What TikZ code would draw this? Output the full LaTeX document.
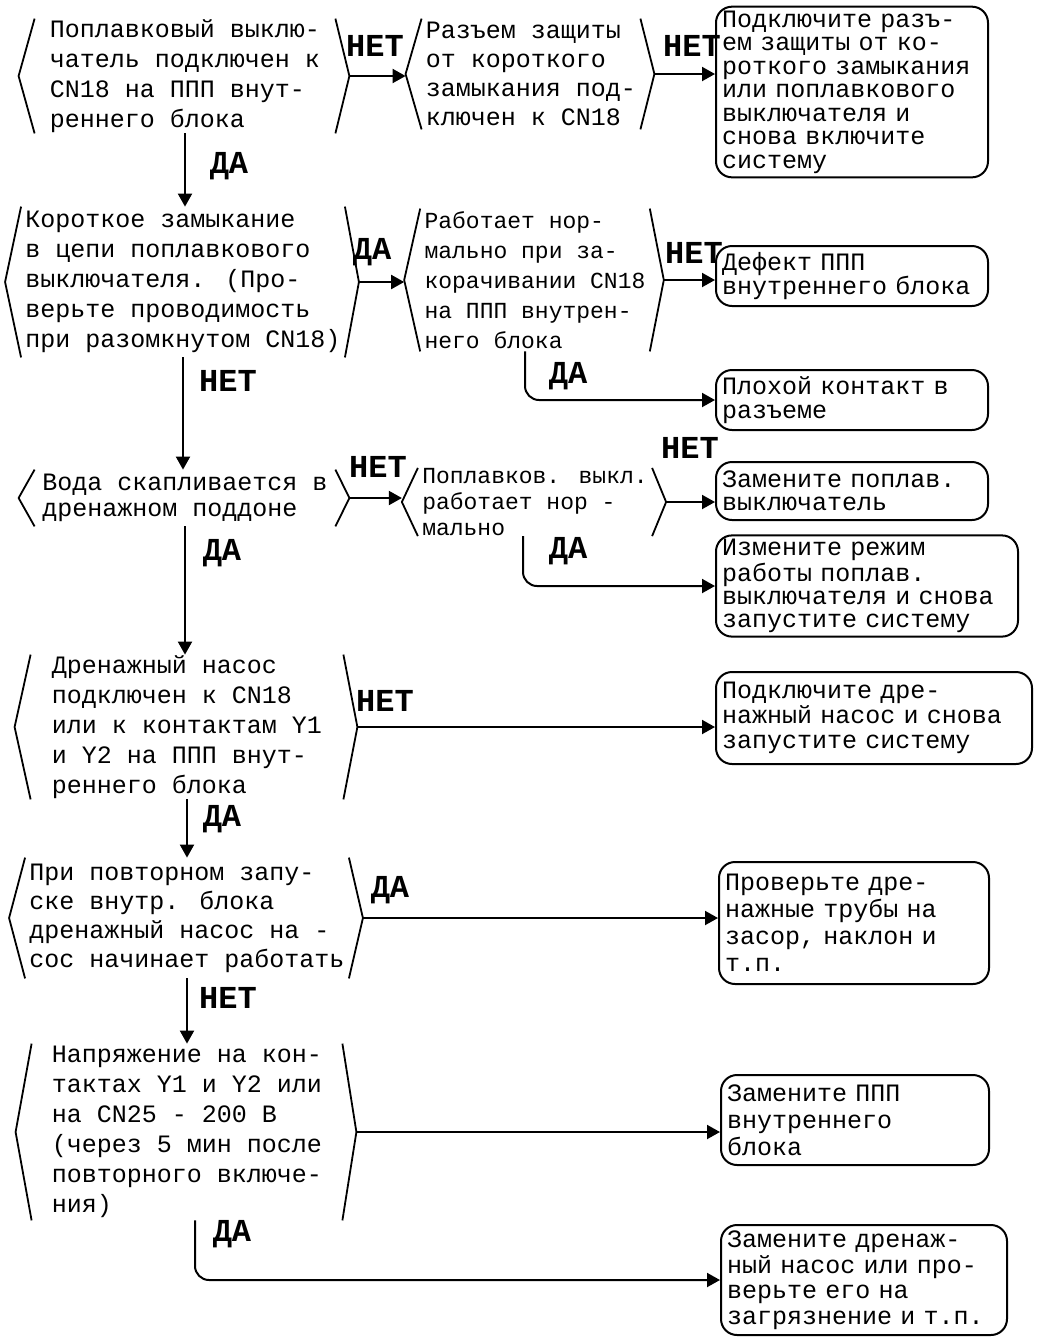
\documentclass[tikz,border=0pt]{standalone}
\usepackage{fontspec}
\newfontfamily\cyrmono{Liberation Mono}
\usetikzlibrary{arrows.meta, positioning, calc}
\tikzset{
    question/.style={
        align=left, inner xsep=2pt, inner ysep=0pt
    },
    answer/.style={
        rectangle, rounded corners=8pt, draw=black, line width=1pt,
        align=left, anchor=west, inner xsep=3pt, inner ysep=2pt,
        text width=#1
    },
    leading/.style 2 args={
        font=\cyrmono\fontsize{#1}{#2}\selectfont
    },
    reply/.style={
        font=\cyrmono\bfseries\fontsize{16}{16}\selectfont, inner sep=0pt
    },
    bracket/.style={
        line width=0.9pt, line join=round
    },
    arrow/.style={
        -{Triangle[length=6.5pt,width=7pt]}, line width=1pt
    },
    elbow/.style={
        arrow, rounded corners=7pt
    }
}
% angle brackets round a question, with named tips
\newcommand{\qbrackets}[1]{%
    \draw[bracket] (#1.north west) -- ($(#1.west)+(-16,0)$) coordinate (#1-l) -- (#1.south west);
    \draw[bracket] (#1.north east) -- ($(#1.east)+(14,0)$) coordinate (#1-r) -- (#1.south east);
}

\begin{document}
\begin{tikzpicture}[x=0.5pt, y=-0.5pt]

    \useasboundingbox (0,0) rectangle (1041,1340);

    % questions
    \node[question, leading={12.5}{15}, minimum width=150pt, minimum height=57pt]   (q1) at (185,76)
        {Поплавковый выклю-\\чатель подключен к\\CN18 на ППП внут-\\реннего блока};
    \node[question, leading={12.5}{14.5}, minimum width=109pt, minimum height=55pt] (q2) at (531,74)
        {Разъем защиты\\от короткого\\замыкания под-\\ключен к CN18};
    \node[question, leading={12.5}{15}, minimum width=155pt, minimum height=75pt]   (q3) at (183,282)
        {Короткое замыкание\\в цепи поплавкового\\выключателя. (Про-\\верьте проводимость\\при разомкнутом CN18)};
    \node[question, leading={11.5}{15}, minimum width=110pt, minimum height=71pt]   (q4) at (535,280)
        {Работает нор-\\мально при за-\\корачивании CN18\\на ППП внутрен-\\него блока};
    \node[question, leading={12.5}{13}, minimum width=150pt, minimum height=28pt]   (q6) at (185,498)
        {Вода скапливается в\\дренажном поддоне};
    \node[question, leading={11.5}{13}, minimum width=115pt, minimum height=28pt]   (q5) at (535,502)
        {Поплавков. выкл.\\работает нор -\\мально};
    \node[question, leading={12.5}{15}, minimum width=156pt, minimum height=72pt]   (q7) at (187,727)
        {Дренажный насос\\подключен к CN18\\или к контактам Y1\\и Y2 на ППП внут-\\реннего блока};
    \node[question, leading={12.5}{14.5}, minimum width=157pt, minimum height=60pt] (q8) at (187,918)
        {При повторном запу-\\ске внутр. блока\\дренажный насос на -\\сос начинает работать};
    \node[question, leading={12.5}{15}, minimum width=155pt, minimum height=88pt]   (q9) at (187,1132)
        {Напряжение на кон-\\тактах Y1 и Y2 или\\на CN25 - 200 В\\(через 5 мин после\\повторного включе-\\ния)};

    \qbrackets{q1} \qbrackets{q2} \qbrackets{q3} \qbrackets{q4} \qbrackets{q5}
    \qbrackets{q6} \qbrackets{q7} \qbrackets{q8} \qbrackets{q9}

    % answers
    \node[answer=130pt, leading={12.5}{11.75}, minimum height=80pt] (b1) at (715,92)
        {Подключите разъ-\\ем защиты от ко-\\роткого замыкания\\или поплавкового\\выключателя и\\снова включите\\систему};
    \node[answer=130pt, leading={12.5}{12}, minimum height=30pt]    (b2) at (715,276)
        {Дефект ППП\\внутреннего блока};
    \node[answer=130pt, leading={12.5}{12}, minimum height=30pt]    (b3) at (715,400)
        {Плохой контакт в\\разъеме};
    \node[answer=130pt, leading={12.5}{11.5}, minimum height=29pt]  (b4) at (715,491)
        {Замените поплав.\\выключатель};
    \node[answer=145pt, leading={12.5}{11.5}, minimum height=46pt]  (b5) at (715,586)
        {Измените режим\\работы поплав.\\выключателя и снова\\запустите систему};
    \node[answer=152pt, leading={12.5}{12.5}, minimum height=46pt]  (b6) at (715,718)
        {Подключите дре-\\нажный насос и снова\\запустите систему};
    \node[answer=129pt, leading={12.5}{13.5}, minimum height=61pt]  (b7) at (718,923)
        {Проверьте дре-\\нажные трубы на\\засор, наклон и\\т.п.};
    \node[answer=128pt, leading={12.5}{13.5}, minimum height=45pt]  (b8) at (720,1120)
        {Замените ППП\\внутреннего\\блока};
    \node[answer=137pt, leading={12.5}{12.75}, minimum height=55pt] (b9) at (720,1280)
        {Замените дренаж-\\ный насос или про-\\верьте его на\\загрязнение и т.п.};

    % connectors
    \draw[arrow] (q1-r) -- (q1-r -| q2-l);
    \draw[arrow] (q2-r) -- (q2-r -| b1.west);
    \draw[arrow] (q1.south) -- (q1.south |- q3.north);
    \draw[arrow] (q3-r) -- (q3-r -| q4-l);
    \draw[arrow] (q4-r) -- (q4-r -| b2.west);
    \draw[elbow] ([xshift=-5pt]q4.south) |- (b3.west);
    \draw[arrow] (q3.south) -- (q3.south |- q6.north);
    \draw[arrow] (q6-r) -- (q6-r -| q5-l);
    \draw[arrow] (q5-r) -- (q5-r -| b4.west);
    \draw[elbow] ([xshift=-6pt]q5.south) |- (b5.west);
    \draw[arrow] (q6.south) -- (q6.south |- q7.north);
    \draw[arrow] (q7-r) -- (q7-r -| b6.west);
    \draw[arrow] (q7.south) -- (q7.south |- q8.north);
    \draw[arrow] (q8-r) -- (q8-r -| b7.west);
    \draw[arrow] (q8.south) -- (q8.south |- q9.north);
    \draw[arrow] (q9-r) -- (q9-r -| b8.west);
    \draw[elbow] ([xshift=4pt]q9.south) |- (b9.west);

    % yes / no labels
    \node[reply] (n1)  at (375,46)   {НЕТ};
    \node[reply] (n2)  at (692,46)   {НЕТ};
    \node[reply] (y1)  at (229,166)  {ДА};
    \node[reply] (y2)  at (372,252)  {ДА};
    \node[reply] (n3)  at (694,253)  {НЕТ};
    \node[reply] (y3)  at (568,376)  {ДА};
    \node[reply] (n4)  at (228,381)  {НЕТ};
    \node[reply] (n5)  at (378,467)  {НЕТ};
    \node[reply] (n6)  at (690,448)  {НЕТ};
    \node[reply] (y4)  at (568,551)  {ДА};
    \node[reply] (y5)  at (222,553)  {ДА};
    \node[reply] (n7)  at (385,701)  {НЕТ};
    \node[reply] (y6)  at (222,819)  {ДА};
    \node[reply] (y7)  at (390,890)  {ДА};
    \node[reply] (n8)  at (228,998)  {НЕТ};
    \node[reply] (y8)  at (232,1234) {ДА};

\end{tikzpicture}
\end{document}
